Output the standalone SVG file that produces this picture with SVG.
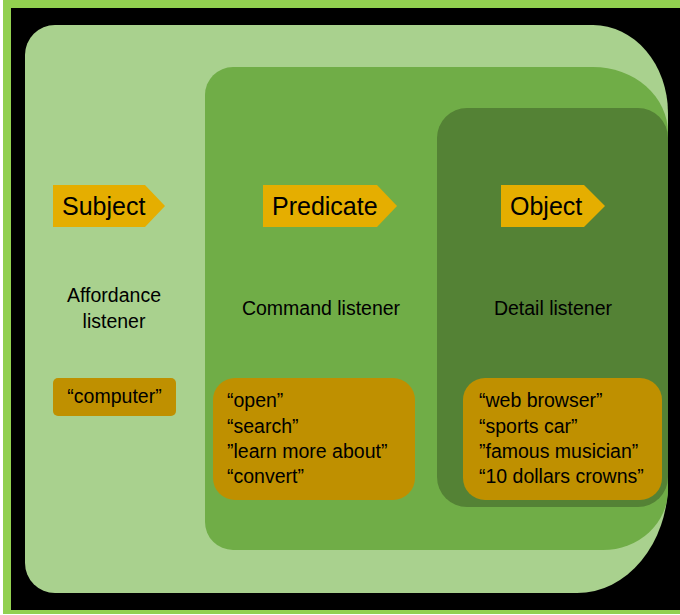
<svg xmlns="http://www.w3.org/2000/svg" width="680" height="615" viewBox="0 0 680 615">
<style>
.t{font-family:"Liberation Sans",Arial,sans-serif;fill:#000;}
.lab{font-size:25px;}
.body{font-size:19.5px;}
.chev{fill:#E5AE00;}
.box{fill:#BF9000;}
</style>
<rect x="0" y="0" width="680" height="615" fill="#ffffff"/>
<rect x="3" y="0" width="677" height="614" fill="#92D050"/>
<rect x="11" y="8" width="669" height="602" fill="#000000"/>
<g id="subject-area">
<path d="M55,25 H593 A75,88 0 0 1 668,113 V483 A91,110 0 0 1 577,593 H55 A30,30 0 0 1 25,563 V55 A30,30 0 0 1 55,25 Z" fill="#A9D18E"/>
</g>
<g id="predicate-area">
<path d="M233,67 H593 A75,66 0 0 1 668,133 V490 A65,60 0 0 1 603,550 H233 A28,28 0 0 1 205,522 V95 A28,28 0 0 1 233,67 Z" fill="#70AD47"/>
</g>
<g id="object-area">
<rect x="437" y="108" width="231" height="399" rx="30" ry="30" fill="#548235"/>
</g>
<g id="subject">
<polygon class="chev" points="53,185 145,185 165,206 145,227 53,227"/>
<text class="t lab" x="62" y="215">Subject</text>
</g>
<g id="predicate">
<polygon class="chev" points="263,185 377,185 397,206 377,227 263,227"/>
<text class="t lab" x="272" y="215">Predicate</text>
</g>
<g id="object">
<polygon class="chev" points="501,185 584,185 605,206 584,227 501,227"/>
<text class="t lab" x="510" y="215">Object</text>
</g>
<g id="affordance-listener">
<text class="t body" x="114" y="302" text-anchor="middle">Affordance</text>
<text class="t body" x="114" y="328" text-anchor="middle">listener</text>
</g>
<g id="command-listener">
<text class="t body" x="321" y="315" text-anchor="middle">Command listener</text>
</g>
<g id="detail-listener">
<text class="t body" x="553" y="315" text-anchor="middle">Detail listener</text>
</g>
<g id="subject-examples">
<rect class="box" x="53" y="378" width="123" height="38" rx="5" ry="5"/>
<text class="t body" x="114.5" y="403" text-anchor="middle">“computer”</text>
</g>
<g id="predicate-examples">
<rect class="box" x="213" y="378" width="202" height="122" rx="22" ry="22"/>
<text class="t body" x="227" y="407">“open”</text>
<text class="t body" x="227" y="433">“search”</text>
<text class="t body" x="227" y="458">”learn more about”</text>
<text class="t body" x="227" y="483">“convert”</text>
</g>
<g id="object-examples">
<rect class="box" x="463" y="378" width="199" height="122" rx="22" ry="22"/>
<text class="t body" x="479" y="407">“web browser”</text>
<text class="t body" x="479" y="433">“sports car”</text>
<text class="t body" x="479" y="458">”famous musician”</text>
<text class="t body" x="479" y="483">“10 dollars crowns”</text>
</g>
<g id="connectors"></g>
</svg>
